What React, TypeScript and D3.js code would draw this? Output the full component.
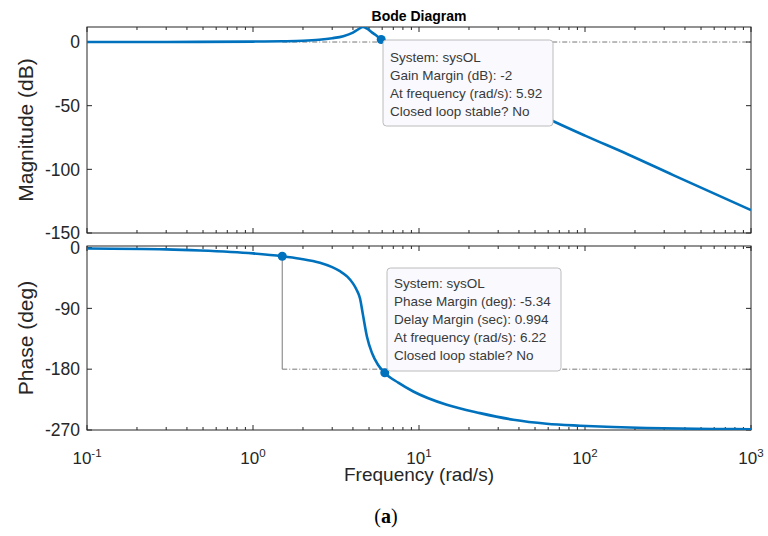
import React from "react";
import * as d3 from "d3";

// Open-loop frequency response of sysOL
const magFreq = [0.1, 0.3, 1, 1.5, 2, 2.5, 3, 3.5, 4, 4.3, 4.6, 4.9, 5.2, 5.6, 5.92, 7, 8, 10, 15, 20, 30, 40, 64, 100, 182, 340, 1000];
const magDb = [0, 0.05, 0.35, 0.6, 1.0, 1.8, 3.0, 4.6, 7.4, 9.9, 11.8, 10.3, 7.6, 4.6, 2.0, -4, -7.5, -13.5, -23, -31, -41.5, -49, -62, -73.5, -88.3, -104.5, -132];

const phaseFreq = [0.1, 0.3, 0.48, 1, 1.5, 1.92, 2.53, 3.0, 3.34, 3.7, 4.0, 4.2, 4.41, 4.6, 4.86, 5.21, 5.66, 6.22, 7.5, 9.24, 14.7, 23.3, 37, 58.7, 93.3, 147.5, 235, 590, 1000];
const phaseDeg = [-1.5, -2.7, -4.3, -8.6, -12.8, -16.5, -22.5, -29, -35, -43, -53, -62, -75, -100, -132, -156, -173.5, -185.34, -200, -213, -232.7, -245, -254.8, -260.7, -263.6, -265.6, -267, -268.5, -268.8];

// Stability margins
const gainMarginDb = -2;
const gainCrossFreq = 5.92;
const phaseMarginDeg = -5.34;
const delayMarginSec = 0.994;
const phaseCrossFreq = 6.22;
const refFreq = 1.5;
const refPhase = -12.8;

const magTicks = [0, -50, -100, -150];
const phaseTicks = [0, -90, -180, -270];
const decadeExps = [-1, 0, 1, 2, 3];

const gmLines = ["System: sysOL", `Gain Margin (dB): ${gainMarginDb}`, `At frequency (rad/s): ${gainCrossFreq}`, "Closed loop stable? No"];
const pmLines = ["System: sysOL", `Phase Margin (deg): ${phaseMarginDeg}`, `Delay Margin (sec): ${delayMarginSec}`, `At frequency (rad/s): ${phaseCrossFreq}`, "Closed loop stable? No"];

const W = 768;
const H = 536;
const left = 87;
const right = 751;
const magTop = 27;
const magBottom = 233;
const phTop = 246;
const phBottom = 430;

const FONT = "'Liberation Sans', Arial, Helvetica, sans-serif";
const BLUE = "#0072BD";
const AXIS = "#262626";

const x = d3.scaleLog().domain([0.1, 1000]).range([left, right]);
const yMag = d3.scaleLinear().domain([-150, 11.8]).range([magBottom, magTop]);
const yPh = d3.scaleLinear().domain([-270, 2.3]).range([phBottom, phTop]);

const minorFreqs: number[] = [];
for (let e = -1; e < 3; e++) {
  for (let k = 2; k <= 9; k++) minorFreqs.push(k * Math.pow(10, e));
}

function Frame({ top, bottom, y, ticks }: { top: number; bottom: number; y: d3.ScaleLinear<number, number>; ticks: number[] }) {
  return (
    <g stroke={AXIS} strokeWidth={1} fill="none">
      {decadeExps.map((e) => {
        const px = x(Math.pow(10, e));
        return (
          <g key={"M" + e}>
            <line x1={px} x2={px} y1={bottom} y2={bottom - 5} />
            <line x1={px} x2={px} y1={top} y2={top + 5} />
          </g>
        );
      })}
      {minorFreqs.map((f) => {
        const px = x(f);
        return (
          <g key={"m" + f}>
            <line x1={px} x2={px} y1={bottom} y2={bottom - 3} />
            <line x1={px} x2={px} y1={top} y2={top + 3} />
          </g>
        );
      })}
      {ticks.map((t) => (
        <g key={"y" + t}>
          <line x1={left} x2={left + 5} y1={y(t)} y2={y(t)} />
          <line x1={right} x2={right - 5} y1={y(t)} y2={y(t)} />
        </g>
      ))}
      <rect x={left} y={top} width={right - left} height={bottom - top} />
    </g>
  );
}

function Tip({ x0, y0, w, h, lines, tx, ty }: { x0: number; y0: number; w: number; h: number; lines: string[]; tx: number; ty: number }) {
  return (
    <g>
      <rect x={x0} y={y0} width={w} height={h} rx={3.5} fill="#f9f9fe" stroke="#bcbcbc" strokeWidth={1} />
      {lines.map((s, i) => (
        <text key={i} x={tx} y={ty + i * 18} fontSize={13.5} fill="#3a3a3a" fontFamily={FONT}>
          {s}
        </text>
      ))}
    </g>
  );
}

export default function App() {
  const magLine = d3
    .line<number>()
    .x((_, i) => x(magFreq[i]))
    .y((d) => yMag(d))
    .curve(d3.curveMonotoneX)(magDb) as string;
  const phLine = d3
    .line<number>()
    .x((_, i) => x(phaseFreq[i]))
    .y((d) => yPh(d))
    .curve(d3.curveMonotoneX)(phaseDeg) as string;

  const gmPhase = -180;
  const magAtGm = -gainMarginDb;
  const phAtPm = -180 + phaseMarginDeg;

  return (
    <svg width={W} height={H} style={{ position: "absolute", left: 0, top: 0, background: "#fff" }} fontFamily={FONT}>
      <defs>
        <clipPath id="clipMag">
          <rect x={left} y={magTop} width={right - left} height={magBottom - magTop} />
        </clipPath>
        <clipPath id="clipPh">
          <rect x={left} y={phTop} width={right - left} height={phBottom - phTop} />
        </clipPath>
      </defs>

      <text x={(left + right) / 2} y={20.5} textAnchor="middle" fontWeight="bold" fontSize={14} fill="#000">
        Bode Diagram
      </text>

      {/* reference lines */}
      <line x1={x(refFreq)} x2={right} y1={yMag(0)} y2={yMag(0)} stroke="#555" strokeWidth={0.8} strokeDasharray="5,2,1,2" />
      <line x1={x(refFreq)} x2={right} y1={yPh(gmPhase)} y2={yPh(gmPhase)} stroke="#555" strokeWidth={0.8} strokeDasharray="5,2,1,2" />
      <line x1={x(refFreq)} x2={x(refFreq)} y1={yPh(refPhase)} y2={yPh(gmPhase)} stroke="#7a7a7a" strokeWidth={1} />

      <Frame top={magTop} bottom={magBottom} y={yMag} ticks={magTicks} />
      <Frame top={phTop} bottom={phBottom} y={yPh} ticks={phaseTicks} />

      <path d={magLine} fill="none" stroke={BLUE} strokeWidth={2.6} clipPath="url(#clipMag)" />
      <path d={phLine} fill="none" stroke={BLUE} strokeWidth={2.6} clipPath="url(#clipPh)" />

      <circle cx={x(gainCrossFreq)} cy={yMag(magAtGm)} r={4.5} fill={BLUE} />
      <circle cx={x(phaseCrossFreq)} cy={yPh(phAtPm)} r={4.5} fill={BLUE} />
      <circle cx={x(refFreq)} cy={yPh(refPhase)} r={4.5} fill={BLUE} />

      <Tip x0={383} y0={40} w={170} h={86} lines={gmLines} tx={390} ty={61.7} />
      <Tip x0={387} y0={268} w={174} h={103} lines={pmLines} tx={394} ty={288.3} />

      {/* y tick labels */}
      {magTicks.map((t) => (
        <text key={"lm" + t} x={80} y={yMag(t)} dy="0.36em" textAnchor="end" fontSize={17.5} fill={AXIS}>
          {t}
        </text>
      ))}
      {phaseTicks.map((t) => (
        <text key={"lp" + t} x={80} y={yPh(t)} dy="0.36em" textAnchor="end" fontSize={17.5} fill={AXIS}>
          {t}
        </text>
      ))}

      {/* x tick labels */}
      {decadeExps.map((e) => (
        <text key={"lx" + e} x={x(Math.pow(10, e))} y={464} textAnchor="middle" fontSize={17} fill={AXIS}>
          10
          <tspan dy={-7.5} fontSize={11.5}>
            {e}
          </tspan>
        </text>
      ))}

      <text x={(left + right) / 2} y={481} textAnchor="middle" fontSize={19} fill={AXIS}>
        Frequency  (rad/s)
      </text>
      <text transform={`translate(33, ${(magTop + magBottom) / 2}) rotate(-90)`} textAnchor="middle" fontSize={21} fill={AXIS}>
        Magnitude (dB)
      </text>
      <text transform={`translate(33, 338) rotate(-90)`} textAnchor="middle" fontSize={21} fill={AXIS}>
        Phase (deg)
      </text>

      <text x={386} y={523} textAnchor="middle" fontSize={20} fontFamily="'Liberation Serif', 'DejaVu Serif', serif" fill="#000">
        (<tspan fontWeight="bold">a</tspan>)
      </text>
    </svg>
  );
}
